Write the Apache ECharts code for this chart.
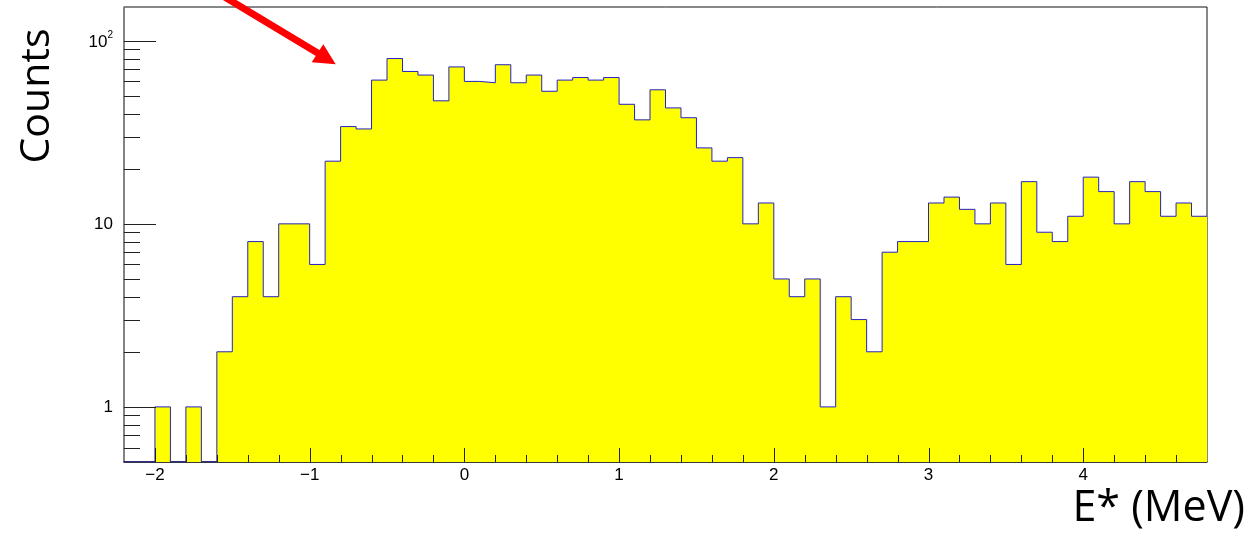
<!DOCTYPE html>
<html><head><meta charset="utf-8">
<script src="https://cdn.jsdelivr.net/npm/echarts@6/dist/echarts.min.js"></script>
<style>html,body{margin:0;padding:0;background:#fff}#c{width:1252px;height:534px}</style>
</head><body><div id="c"></div>
<script>
// ---- data ----
const binLow = -2.2;
const binWidth = 0.1;
const counts = [
  0, 0, 1, 0, 1, 0, 2, 4, 8, 4,
  10, 10, 6, 22, 34, 33, 61, 80, 68, 65,
  47, 72, 60, 59, 74, 59, 65, 53, 61, 63,
  61, 63, 45, 37, 54, 43, 38, 26, 22, 23,
  10, 13, 5, 4, 5, 1, 4, 3, 2, 7,
  8, 8, 13, 14, 12, 10, 13, 6, 17, 9,
  8, 11, 18, 15, 10, 17, 15, 11, 13, 11
];
const xMin = -2.2, xMax = 4.8;
const yMin = 0.5, yMax = 153;
const xMajorTicks = [-2, -1, 0, 1, 2, 3, 4];
const xMinorTicks = [-1.8, -1.6, -1.4, -1.2, -0.8, -0.6, -0.4, -0.2, 0.2, 0.4, 0.6, 0.8,
  1.2, 1.4, 1.6, 1.8, 2.2, 2.4, 2.6, 2.8, 3.2, 3.4, 3.6, 3.8, 4.2, 4.4, 4.6];
const yMajorTicks = [1, 10, 100];
const yMinorTicks = [0.6, 0.7, 0.8, 0.9, 2, 3, 4, 5, 6, 7, 8, 9, 20, 30, 40, 50, 60, 70, 80, 90];
const yLabelValues = [1, 10, 100];
const yLabelTexts = ['1', '10', '{b|10}{s|2}'];
const xTitle = 'E* (MeV)';
const yTitle = 'Counts';

// ---- build ----
const stepData = counts.map((c, i) => [+(binLow + i * binWidth).toFixed(6), Math.max(c, yMin)]);
stepData.push([+(binLow + counts.length * binWidth).toFixed(6), Math.max(counts[counts.length - 1], yMin)]);

const tickData = [];
yMajorTicks.forEach(v => tickData.push([xMin, v, 0]));
yMinorTicks.forEach(v => tickData.push([xMin, v, 1]));
xMajorTicks.forEach(v => tickData.push([v, yMin, 2]));
xMinorTicks.forEach(v => tickData.push([v, yMin, 3]));

const FONT = '"Liberation Sans", Arial, Helvetica, sans-serif';
const chart = echarts.init(document.getElementById('c'), null, {renderer: 'canvas'});
chart.setOption({
  animation: false,
  backgroundColor: '#ffffff',
  grid: {left: 124, top: 7, width: 1083, height: 455, show: true, borderColor: '#111', borderWidth: 1, backgroundColor: 'transparent'},
  xAxis: {
    type: 'value', min: xMin, max: xMax, interval: 0.2,
    axisLine: {show: true, onZero: false, lineStyle: {color: '#222', width: 1.5}},
    axisTick: {show: false}, splitLine: {show: false},
    axisLabel: {
      margin: 5, fontSize: 17, fontFamily: FONT, color: '#000',
      formatter: v => {
        if (Math.abs(v - Math.round(v)) > 1e-6) return '';
        const r = Math.round(v);
        return r < 0 ? '\u2212' + Math.abs(r) : String(r);
      }
    }
  },
  yAxis: {
    type: 'log', logBase: 10, min: yMin, max: yMax,
    axisLine: {show: true, onZero: false, lineStyle: {color: '#808080', width: 1.5}},
    axisTick: {show: false}, splitLine: {show: false}, minorTick: {show: false},
    axisLabel: {
      margin: 11, fontSize: 17, fontFamily: FONT, color: '#000',
      rich: {
        b: {fontSize: 17, fontFamily: FONT, color: '#000', padding: [4, 0, 0, 0]},
        s: {fontSize: 10, fontFamily: FONT, color: '#000', verticalAlign: 'top'}
      },
      formatter: v => {
        for (let i = 0; i < yLabelValues.length; i++) {
          if (Math.abs(Math.log10(v) - Math.log10(yLabelValues[i])) < 1e-6) return yLabelTexts[i];
        }
        return '';
      }
    }
  },
  series: [
    {
      type: 'line', data: stepData, step: 'end', showSymbol: false, symbol: 'none',
      lineStyle: {color: '#2424c0', width: 1},
      areaStyle: {color: '#ffff00', opacity: 1, origin: 'start'},
      z: 2
    },
    {
      type: 'custom', data: tickData, encode: {x: 0, y: 1}, clip: false, z: 5,
      renderItem: (params, api) => {
        const kind = api.value(2);
        const p = api.coord([api.value(0), api.value(1)]);
        let x1 = p[0], y1 = p[1], x2, y2;
        if (kind < 2) {
          y1 = Math.round(y1) + 0.5; x2 = x1 + (kind === 0 ? 32 : 16); y2 = y1;
        } else {
          x1 = Math.round(x1) + 0.5; x2 = x1; y2 = y1 - (kind === 2 ? 14 : 7);
        }
        return {type: 'line', shape: {x1, y1, x2, y2}, style: {stroke: '#222', lineWidth: 1}};
      }
    }
  ],
  graphic: [
    {type: 'text', x: 37, y: 96, rotation: Math.PI / 2, z: 10,
     style: {text: yTitle, font: '41px "Open Sans", sans-serif', fill: '#000', align: 'center', verticalAlign: 'middle'}},
    {type: 'text', x: 1245, y: 509, z: 10,
     style: {text: xTitle, font: '43px "Open Sans", sans-serif', fill: '#000', align: 'right', verticalAlign: 'middle'}},
    {type: 'line', z: 10, shape: {x1: 213, y1: -10, x2: 318.5, y2: 53.5}, style: {stroke: '#ff0000', lineWidth: 7}},
    {type: 'polygon', z: 10, shape: {points: [[311.7, 62.3], [323.3, 44.3], [335.7, 64.3]]}, style: {fill: '#ff0000'}}
  ]
});
</script>
</body></html>
